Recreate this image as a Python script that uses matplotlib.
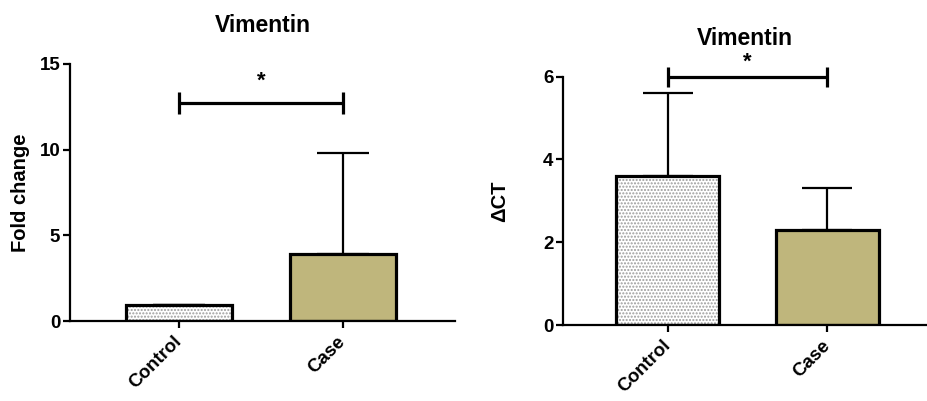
import matplotlib
matplotlib.use("Agg")
import matplotlib.pyplot as plt

plt.rcParams['font.family'] = ['Liberation Sans', 'DejaVu Sans']
plt.rcParams['font.weight'] = 'bold'
plt.rcParams['hatch.linewidth'] = 1.0

categories = ["Control", "Case"]
title = "Vimentin"

# Left panel: fold change
fold_values = [0.93, 3.9]
fold_err = [0.0, 5.9]
fold_ticks = [0, 5, 10, 15]
fold_ylabel = "Fold change"

# Right panel: delta CT
dct_values = [3.6, 2.3]
dct_err = [2.0, 1.0]
dct_ticks = [0, 2, 4, 6]
dct_ylabel = "\u0394CT"

bar_colors = ["white", "#BFB67C"]
sig_label = "*"

fig = plt.figure(figsize=(9.28, 4.01), dpi=100)

ax1 = fig.add_axes([70/928, 80/401, 385/928, 257/401])
ax2 = fig.add_axes([563/928, 76/401, 364/928, 248.3/401])


def draw_panel(ax, vals, errs, ticks, ylabel, xlim, bar_w, capsize,
               bracket_y, bracket_h, star_y, label_x):
    x = list(range(len(categories)))
    # hatched control bar (dots)
    ax.bar(x[0], vals[0], width=bar_w, color="white", edgecolor="#9c9c9c",
           hatch=".....", linewidth=0, zorder=2)
    ax.bar(x[1], vals[1], width=bar_w, color=bar_colors[1], linewidth=0, zorder=2)
    ax.bar(x, vals, width=bar_w, fill=False, edgecolor="black",
           linewidth=2.3, zorder=3)
    ax.errorbar(x, vals, yerr=[[0]*len(vals), errs], fmt="none", ecolor="black",
                elinewidth=1.6, capsize=capsize, capthick=1.6, zorder=1)
    ax.set_xlim(*xlim)
    ax.set_ylim(ticks[0], ticks[-1])
    ax.set_yticks(ticks)
    ax.set_xticks(x)
    ax.set_xticklabels(categories, rotation=45, ha="right", va="center",
                       rotation_mode="anchor", fontsize=13.5, fontweight="bold")
    for lab in ax.get_yticklabels():
        lab.set_fontsize(13.5)
        lab.set_fontweight("bold")
    ax.spines["top"].set_visible(False)
    ax.spines["right"].set_visible(False)
    for s in ("left", "bottom"):
        ax.spines[s].set_linewidth(1.6)
    ax.tick_params(axis="y", direction="out", length=5, width=1.6, pad=2)
    ax.tick_params(axis="x", direction="out", length=5, width=1.6, pad=8)
    ax.set_title(title, fontsize=16.5, fontweight="bold", pad=23)
    ax.set_ylabel(ylabel, fontsize=14.5, fontweight="bold")
    ax.yaxis.set_label_coords(label_x, 0.5)
    # significance bracket
    ax.plot([x[0], x[1]], [bracket_y, bracket_y], color="black", lw=2.3,
            clip_on=False, solid_capstyle="butt")
    for xi in (x[0], x[1]):
        ax.plot([xi, xi], [bracket_y - bracket_h, bracket_y + bracket_h],
                color="black", lw=2.3, clip_on=False, solid_capstyle="butt")
    ax.text((x[0] + x[1]) / 2, star_y, sig_label, ha="center", va="center",
            fontsize=16, fontweight="bold", clip_on=False)


draw_panel(ax1, fold_values, fold_err, fold_ticks, fold_ylabel,
           (-0.665, 1.683), 0.65, 19, 12.73, 0.64, 14.0, -0.105)
draw_panel(ax2, dct_values, dct_err, dct_ticks, dct_ylabel,
           (-0.658, 1.624), 0.646, 18, 6.0, 0.245, 6.35, -0.148)

fig.savefig("out.png", dpi=100)
